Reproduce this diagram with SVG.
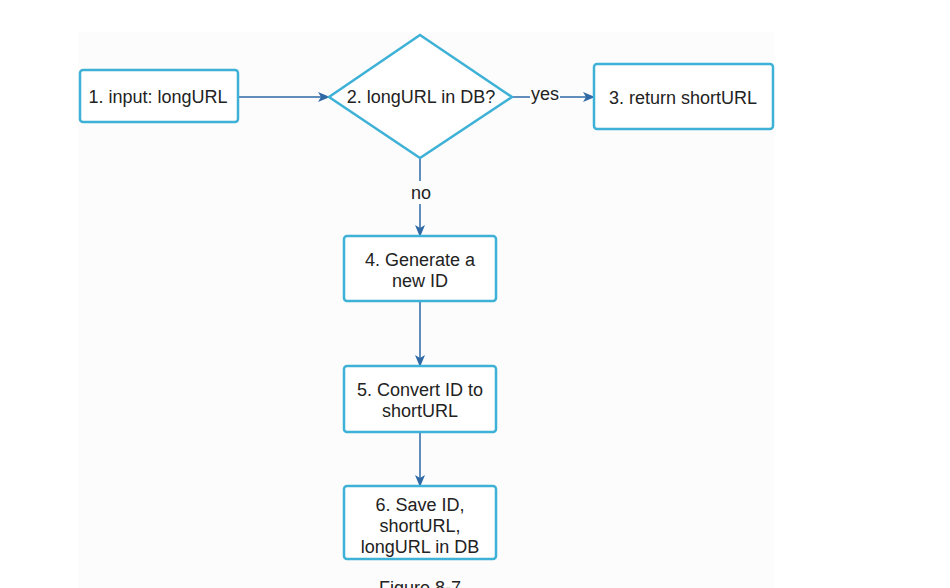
<svg xmlns="http://www.w3.org/2000/svg" width="950" height="588" viewBox="0 0 950 588">
<defs>
<style>
.box{fill:#ffffff;stroke:#3eb1d6;stroke-width:2.5}
.t{font-family:"Liberation Sans",Arial,sans-serif;font-size:18px;fill:#222222;text-anchor:middle}
.c{stroke:#2f6aa6;stroke-width:1.5;fill:none}
</style>
<marker id="ah" markerWidth="12" markerHeight="10" refX="11" refY="5" orient="auto" markerUnits="userSpaceOnUse">
<path d="M0,0 L12,5 L0,10 L3,5 Z" fill="#2f6aa6"/>
</marker>
</defs>
<rect x="0" y="0" width="950" height="588" fill="#ffffff"/>
<rect x="78" y="32" width="696" height="556" fill="#fcfcfc"/>
<g id="connectors">
<path class="c" d="M238,97 L329,97" marker-end="url(#ah)"/>
<path class="c" d="M512,97 L530,97 M560,97 L594,97" marker-end="url(#ah)"/>
<path class="c" d="M420,158 L420,181 M420,204 L420,236" marker-end="url(#ah)"/>
<path class="c" d="M420,301 L420,366" marker-end="url(#ah)"/>
<path class="c" d="M420,432 L420,486" marker-end="url(#ah)"/>
<text class="t" x="545" y="100">yes</text>
<text class="t" x="421" y="199">no</text>
</g>
<g id="n1">
<rect class="box" x="80" y="70" width="158" height="52" rx="3"/>
<text class="t" x="158" y="103">1. input: longURL</text>
</g>
<g id="n2">
<polygon class="box" points="420,35 512,97 420,158 329,97"/>
<text class="t" x="421" y="103">2. longURL in DB?</text>
</g>
<g id="n3">
<rect class="box" x="594" y="64" width="179" height="65" rx="3"/>
<text class="t" x="683" y="104">3. return shortURL</text>
</g>
<g id="n4">
<rect class="box" x="344" y="236" width="152" height="65" rx="3"/>
<text class="t" x="420" y="266">4. Generate a</text>
<text class="t" x="420" y="287">new ID</text>
</g>
<g id="n5">
<rect class="box" x="344" y="366" width="152" height="66" rx="3"/>
<text class="t" x="420" y="396">5. Convert ID to</text>
<text class="t" x="420" y="417">shortURL</text>
</g>
<g id="n6">
<rect class="box" x="344" y="486" width="152" height="73" rx="3"/>
<text class="t" x="420" y="511">6. Save ID,</text>
<text class="t" x="420" y="532">shortURL,</text>
<text class="t" x="420" y="553">longURL in DB</text>
</g>
<text class="t" x="420" y="594">Figure 8-7</text>
</svg>
